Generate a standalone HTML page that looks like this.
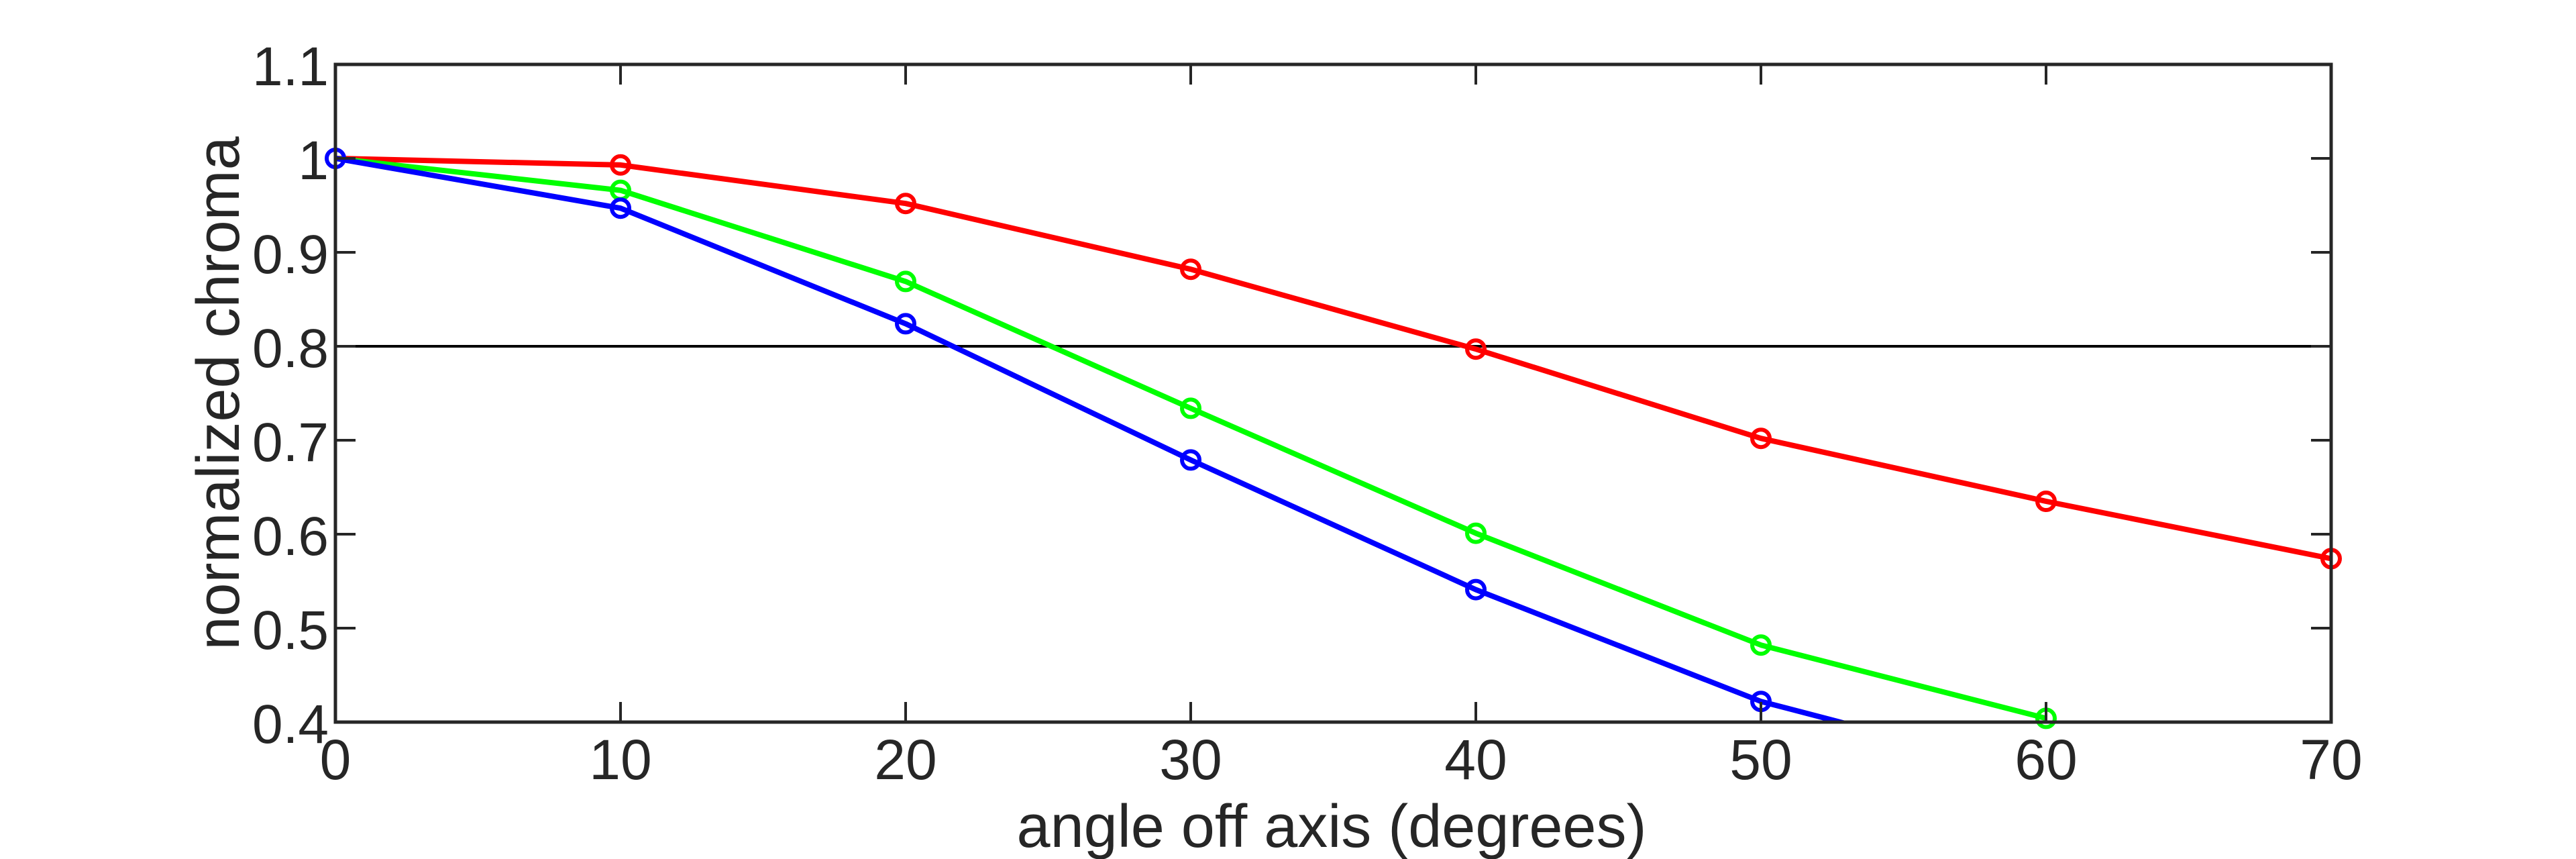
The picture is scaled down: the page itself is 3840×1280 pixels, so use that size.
<!DOCTYPE html>
<html><head><meta charset="utf-8"><style>
html,body{margin:0;padding:0;background:#fff;}
svg{display:block;}
text{font-family:"Liberation Sans",Arial,sans-serif;fill:#262626;}
</style></head><body>
<svg width="3840" height="1280" viewBox="0 0 3840 1280" xmlns="http://www.w3.org/2000/svg">
<rect width="3840" height="1280" fill="#fff"/>
<defs><clipPath id="c"><rect x="500" y="96" width="2975" height="980"/></clipPath></defs>
<line x1="500" y1="516" x2="3475" y2="516" stroke="#000" stroke-width="4"/>
<g clip-path="url(#c)" fill="none" stroke-width="8" stroke-linejoin="round">
<polyline stroke="#ff0000" points="500,236 925,245.8 1350,303.2 1775,401.2 2200,520.2 2625,653.2 3050,747 3475,832.4"/>
<polyline stroke="#00ff00" points="500,236 925,283.6 1350,419.4 1775,608.4 2200,794.6 2625,961.2 3050,1070.4"/>
<polyline stroke="#0000ff" points="500,236 925,310.2 1350,482.4 1775,685.4 2200,878.6 2625,1045.2 3050,1156"/>
</g>
<g fill="none" stroke-width="6">
<g stroke="#ff0000">
<circle cx="925" cy="245.8" r="13"/><circle cx="1350" cy="303.2" r="13"/><circle cx="1775" cy="401.2" r="13"/><circle cx="2200" cy="520.2" r="13"/><circle cx="2625" cy="653.2" r="13"/><circle cx="3050" cy="747" r="13"/><circle cx="3475" cy="832.4" r="13"/>
</g>
<g stroke="#00ff00">
<circle cx="925" cy="283.6" r="13"/><circle cx="1350" cy="419.4" r="13"/><circle cx="1775" cy="608.4" r="13"/><circle cx="2200" cy="794.6" r="13"/><circle cx="2625" cy="961.2" r="13"/><circle cx="3050" cy="1070.4" r="13"/>
</g>
<g stroke="#0000ff">
<circle cx="500" cy="236" r="13"/><circle cx="925" cy="310.2" r="13"/><circle cx="1350" cy="482.4" r="13"/><circle cx="1775" cy="685.4" r="13"/><circle cx="2200" cy="878.6" r="13"/><circle cx="2625" cy="1045.2" r="13"/>
</g>
</g>
<rect x="500" y="96" width="2975" height="980" fill="none" stroke="#262626" stroke-width="5"/>
<g stroke="#262626" stroke-width="4">
<path d="M500 236h30M500 376h30M500 516h30M500 656h30M500 796h30M500 936h30
M3475 236h-30M3475 376h-30M3475 516h-30M3475 656h-30M3475 796h-30M3475 936h-30
M925 1076v-30M1350 1076v-30M1775 1076v-30M2200 1076v-30M2625 1076v-30M3050 1076v-30
M925 96v30M1350 96v30M1775 96v30M2200 96v30M2625 96v30M3050 96v30"/>
</g>
<g font-size="82" text-anchor="end">
<text x="490" y="127">1.1</text>
<text x="490" y="267">1</text>
<text x="490" y="407">0.9</text>
<text x="490" y="547">0.8</text>
<text x="490" y="687">0.7</text>
<text x="490" y="827">0.6</text>
<text x="490" y="967">0.5</text>
<text x="490" y="1107">0.4</text>
</g>
<g font-size="84" text-anchor="middle">
<text x="500" y="1161">0</text>
<text x="925" y="1161">10</text>
<text x="1350" y="1161">20</text>
<text x="1775" y="1161">30</text>
<text x="2200" y="1161">40</text>
<text x="2625" y="1161">50</text>
<text x="3050" y="1161">60</text>
<text x="3475" y="1161">70</text>
</g>
<text x="1985" y="1262" font-size="90" text-anchor="middle">angle off axis (degrees)</text>
<text transform="translate(356,586) rotate(-90)" font-size="90" text-anchor="middle">normalized chroma</text>
</svg>
</body></html>
